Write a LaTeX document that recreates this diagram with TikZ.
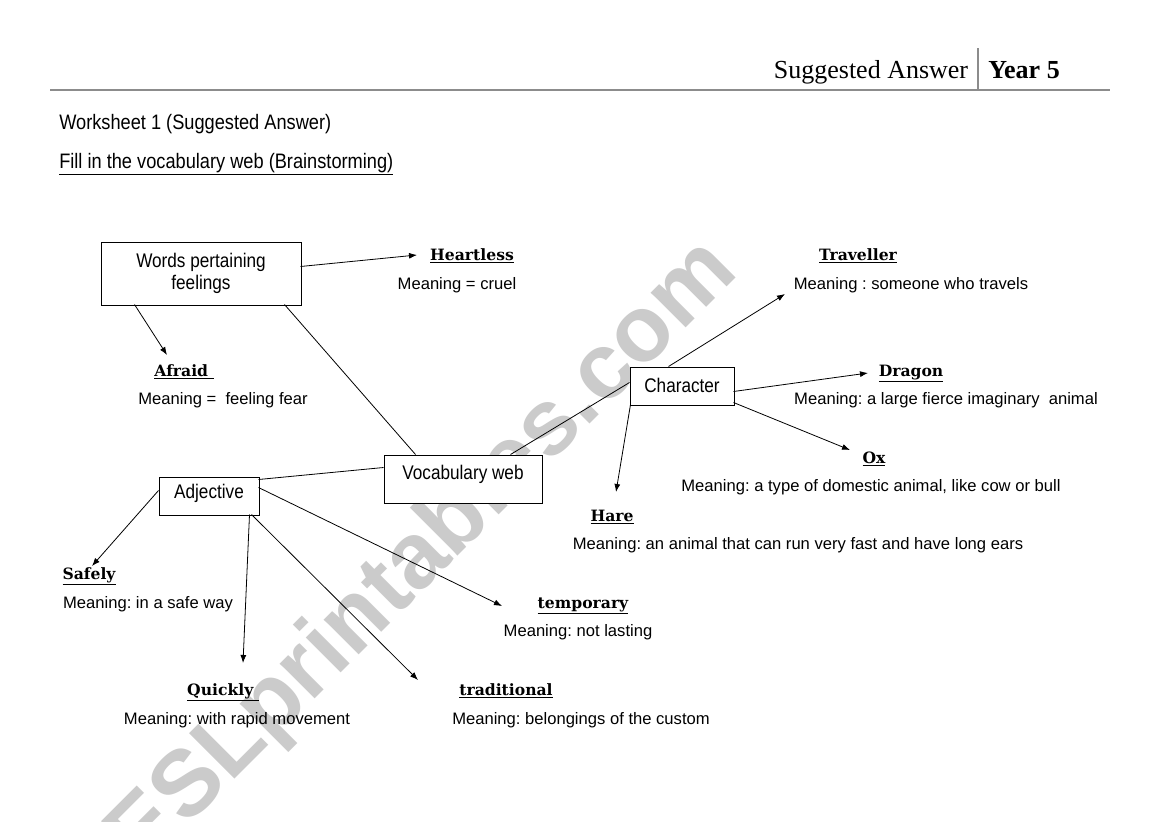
\documentclass[tikz,border=0pt]{standalone}
\usepackage{fontspec}
\setmainfont{Liberation Sans}
\newfontfamily\hdrfont{Liberation Serif}
\newfontfamily\lblfont{DejaVu Serif}
\newfontfamily\narrowfont[FakeStretch=0.87]{Liberation Sans}
\newfontfamily\boxfont[FakeStretch=0.87]{Liberation Sans}
\newfontfamily\wmfont{Liberation Sans}
\usetikzlibrary{arrows.meta,calc}
\definecolor{rulegray}{RGB}{140,140,140}
\definecolor{wmgray}{RGB}{203,203,203}
\frenchspacing
\begin{document}
\begin{tikzpicture}[x=0.75pt,y=-0.75pt,
  box/.style={draw, line width=0.75pt, fill=white, inner sep=0pt,
    font=\boxfont\fontsize{14.8}{16.5}\selectfont},
  lbl/.style={anchor=base, inner sep=0pt, font=\lblfont\bfseries\fontsize{11.7}{13}\selectfont},
  mean/.style={anchor=base, inner sep=0pt, font=\fontsize{12.45}{14}\selectfont},
  arr/.style={-{Latex[length=6pt,width=4.5pt]}, line width=0.6pt},
  link/.style={line width=0.6pt}]
\useasboundingbox[fill=white] (0,0) rectangle (1169,821);

% watermark
\node[wmgray, rotate=45, inner sep=0pt, font=\wmfont\bfseries\fontsize{70}{80}\selectfont] (wm) at (424,556) {ESLprintables.com};

% header
\node[anchor=base, inner sep=0pt, font=\hdrfont\fontsize{19.5}{22}\selectfont] (hdr) at (871,78) {Suggested Answer};
\node[anchor=base, inner sep=0pt, font=\hdrfont\bfseries\fontsize{19.5}{22}\selectfont] (yr) at (1024,78) {Year 5};
\draw[rulegray, line width=1.8pt] (50,90) -- (1110,90);
\draw[rulegray, line width=1.5pt] (978,48) -- (978,90);

\node[anchor=base west, inner sep=0pt, font=\narrowfont\fontsize{15.7}{18}\selectfont] (ws) at (59,129) {Worksheet 1 (Suggested Answer)};
\node[anchor=base west, inner sep=0pt, font=\narrowfont\fontsize{15.7}{18}\selectfont] (fill) at (59,168) {\underline{Fill in the vocabulary web (Brainstorming)}};

% boxes
\node[box, minimum width=150pt, minimum height=47.25pt, align=center] (words) at (201,273.5) {Words pertaining\\feelings};
\node[box, anchor=base, text height=18pt, text depth=18pt, minimum width=118.5pt] (vocab) at (463,479) {Vocabulary web};
\node[box, anchor=base, text height=15.75pt, text depth=12.75pt, minimum width=75pt] (adj) at (209,498) {Adjective};
\node[box, anchor=base, text height=18.75pt, text depth=9.75pt, minimum width=78pt] (char) at (682,392) {Character};

% labels
\node[lbl] (heart) at (472,260) {\underline{Heartless}};
\node[mean] (mheart) at (457,289) {Meaning = cruel};
\node[lbl] (trav) at (858,260) {\underline{Traveller}};
\node[mean] (mtrav) at (911,289) {Meaning : someone who travels};
\node[lbl] (afraid) at (184,376) {\underline{Afraid\ }};
\node[mean] (mafraid) at (223,404) {Meaning =\ \ feeling fear};
\node[lbl] (dragon) at (911,376) {\underline{Dragon}};
\node[mean] (mdragon) at (946,404) {Meaning: a large fierce imaginary\ \ animal};
\node[lbl] (ox) at (874,463) {\underline{Ox}};
\node[mean] (mox) at (871,491) {Meaning: a type of domestic animal, like cow or bull};
\node[lbl] (hare) at (612,521) {\underline{Hare}};
\node[mean] (mhare) at (798,549) {Meaning: an animal that can run very fast and have long ears};
\node[lbl] (safely) at (89,579) {\underline{Safely}};
\node[mean] (msafely) at (148,608) {Meaning: in a safe way};
\node[lbl] (temp) at (583,608) {\underline{temporary}};
\node[mean] (mtemp) at (578,636) {Meaning: not lasting};
\node[lbl] (quick) at (223,695) {\underline{Quickly\ }};
\node[mean] (mquick) at (237,724) {Meaning: with rapid movement};
\node[lbl] (trad) at (506,695) {\underline{traditional}};
\node[mean] (mtrad) at (581,724) {Meaning: belongings of the custom};

% arrow tips
\coordinate (tHeart) at (417,255);
\coordinate (tAfraid) at (167,355);
\coordinate (tTrav) at (785,294);
\coordinate (tDragon) at (868,373);
\coordinate (tOx) at (850,450);
\coordinate (tHare) at (616,492);
\coordinate (tSafely) at (92,566);
\coordinate (tQuick) at (243,663);
\coordinate (tTrad) at (418,680);
\coordinate (tTemp) at (502,606);

% links
\draw[link] ($(words.north west)+(184,63)$) -- ($(vocab.north west)+(32,0)$);
\draw[link] ($(vocab.north west)+(0,13)$) -- ($(adj.north west)+(100,3)$);
\draw[link] ($(vocab.north west)+(127,0)$) -- ($(char.north west)+(0,16)$);

% arrows
\draw[arr] ($(words.north west)+(200,25)$) -- (tHeart);
\draw[arr] ($(words.north west)+(34,63)$) -- (tAfraid);
\draw[arr] ($(char.north west)+(39,0)$) -- (tTrav);
\draw[arr] ($(char.north west)+(104,25)$) -- (tDragon);
\draw[arr] ($(char.north west)+(104,36)$) -- (tOx);
\draw[arr] ($(char.north west)+(1,38)$) -- (tHare);
\draw[arr] ($(adj.north west)+(0,14)$) -- (tSafely);
\draw[arr] ($(adj.north west)+(91,38)$) -- (tQuick);
\draw[arr] ($(adj.north west)+(93,38)$) -- (tTrad);
\draw[arr] ($(adj.north west)+(100,11)$) -- (tTemp);
\end{tikzpicture}
\end{document}
